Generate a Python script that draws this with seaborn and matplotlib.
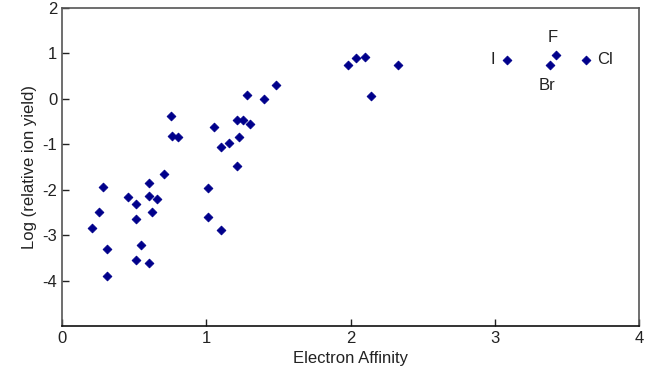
import numpy as np
import pandas as pd
import matplotlib
matplotlib.use("Agg")
import matplotlib.pyplot as plt
import seaborn as sns

# values
electron_affinity = [0.286, 0.258, 0.21, 0.309, 0.309, 0.459, 0.512, 0.512, 0.512, 0.547,
                     0.602, 0.602, 0.662, 0.623, 0.602, 0.704, 1.010, 1.010, 1.105, 1.211,
                     0.754, 0.766, 0.805, 1.054, 1.105, 1.156, 1.230, 1.211, 1.257, 1.306,
                     1.280, 1.481, 1.403, 1.986, 2.039, 2.102, 2.143, 2.327,
                     3.082, 3.428, 3.384, 3.635]
log_yield = [-1.93, -2.48, -2.84, -3.30, -3.89, -2.17, -2.31, -2.64, -3.55, -3.22,
             -1.86, -2.14, -2.20, -2.50, -3.61, -1.65, -1.96, -2.61, -2.88, -1.47,
             -0.37, -0.82, -0.85, -0.61, -1.07, -0.98, -0.85, -0.47, -0.47, -0.56,
             0.09, 0.31, 0.00, 0.74, 0.90, 0.93, 0.06, 0.74,
             0.86, 0.97, 0.74, 0.86]

halogens = ["I", "F", "Br", "Cl"]
halogen_ea = [3.082, 3.428, 3.384, 3.635]
halogen_y = [0.86, 0.97, 0.74, 0.86]

df = pd.DataFrame({"ea": electron_affinity, "logy": log_yield})

sns.set_style("white")
plt.rcParams['font.family'] = ['Liberation Sans', 'DejaVu Sans']
plt.rcParams['axes.unicode_minus'] = False

fig = plt.figure(figsize=(6.56, 3.76), dpi=100)
ax = fig.add_axes([62/656, 1-326/376, (639-62)/656, (326-8)/376])

sns.scatterplot(data=df, x="ea", y="logy", ax=ax, marker="D", s=20,
                color="#00008b", edgecolor="#00008b", linewidth=0.6)

# halogen labels
offsets = {"I": (-8, 0, "right", "center"), "F": (-3, 7, "center", "bottom"),
           "Br": (-2, -9, "center", "top"), "Cl": (8, 0, "left", "center")}
for name, xv, yv in zip(halogens, halogen_ea, halogen_y):
    dx, dy, ha, va = offsets[name]
    ax.annotate(name, (xv, yv), xytext=(dx, dy), textcoords="offset points",
                ha=ha, va=va, fontsize=12, color="#222222")

ax.set_xlim(0, 4)
ax.set_ylim(-5, 2)
ax.set_xticks([0, 1, 2, 3, 4])
ax.set_yticks([-4, -3, -2, -1, 0, 1, 2])
ax.set_xlabel("Electron Affinity", fontsize=12, color="#222222")
ax.set_ylabel("Log (relative ion yield)", fontsize=12, color="#222222")
ax.tick_params(direction="in", length=5, width=1, labelsize=12, colors="#222222",
               top=False, right=False, bottom=True, left=True)
for sp in ax.spines.values():
    sp.set_visible(True)
    sp.set_color("#555555")
    sp.set_linewidth(1.2)
ax.spines["bottom"].set_color("#111111")

plt.savefig("out.png", dpi=100)
